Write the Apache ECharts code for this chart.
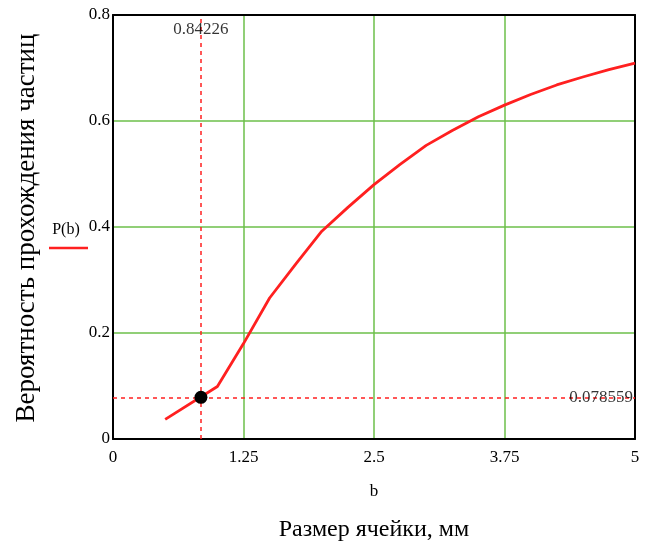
<!DOCTYPE html>
<html>
<head>
<meta charset="utf-8">
<script src="https://cdn.jsdelivr.net/npm/echarts@6/dist/echarts.min.js"></script>
<style>html,body{margin:0;padding:0;background:#fff}#c{width:655px;height:548px}</style>
</head>
<body>
<div id="c"></div>
<script>
const bValues = [0.5, 1.0, 1.25, 1.5, 1.75, 2.0, 2.25, 2.5, 2.75, 3.0, 3.25, 3.5, 3.75, 4.0, 4.25, 4.5, 4.75, 5.0];
const pValues = [0.037, 0.099, 0.18, 0.266, 0.33, 0.392, 0.437, 0.480, 0.518, 0.554, 0.582, 0.608, 0.630, 0.650, 0.668, 0.683, 0.697, 0.709];
const markerB = 0.84226;
const markerP = 0.078559;
const xTicks = [0, 1.25, 2.5, 3.75, 5];
const yTicks = [0, 0.2, 0.4, 0.6, 0.8];
const seriesName = 'P(b)';
const xVarLabel = 'b';
const xTitle = 'Размер ячейки, мм';
const yTitle = 'Вероятность прохождения частиц';

const font = 'Liberation Serif, Times New Roman, serif';
const chart = echarts.init(document.getElementById('c'));
const fmt = v => String(+v.toFixed(4));
const frameAxis = {
  axisLine: {show: true, onZero: false, lineStyle: {color: '#000', width: 2}},
  axisTick: {show: false}, axisLabel: {show: false}, splitLine: {show: false}
};
chart.setOption({
  animation: false,
  grid: {left: 113, right: 20, top: 15, bottom: 109, show: false},
  xAxis: [{
    type: 'value', min: 0, max: 5, interval: 1.25,
    axisLine: {show: true, onZero: false, lineStyle: {color: '#000', width: 2}},
    axisTick: {show: false},
    splitLine: {show: true, lineStyle: {color: '#6cbf4a', width: 1.5}},
    axisLabel: {color: '#000', fontFamily: font, fontSize: 17, margin: 10, formatter: fmt}
  }, Object.assign({type: 'value', min: 0, max: 5, position: 'top'}, frameAxis)],
  yAxis: [{
    type: 'value', min: 0, max: 0.8, interval: 0.2,
    axisLine: {show: true, onZero: false, lineStyle: {color: '#000', width: 2}},
    axisTick: {show: false},
    splitLine: {show: true, lineStyle: {color: '#6cbf4a', width: 1.5}},
    axisLabel: {color: '#000', fontFamily: font, fontSize: 17, margin: 3, formatter: fmt}
  }, Object.assign({type: 'value', min: 0, max: 0.8, position: 'right'}, frameAxis)],
  series: [
    {
      name: seriesName, type: 'line', showSymbol: false,
      data: bValues.map((b, i) => [b, pValues[i]]),
      lineStyle: {color: '#ff2020', width: 2.8},
      z: 3,
      markLine: {
        silent: true, symbol: 'none',
        lineStyle: {color: '#ff2020', type: [4, 4], width: 1.5},
        label: {show: false},
        data: [
          [{coord: [markerB, 0]}, {coord: [markerB, 0.8]}],
          [{coord: [0, markerP]}, {coord: [5, markerP]}]
        ]
      }
    },
    {
      type: 'scatter', data: [[markerB, markerP]], symbolSize: 13,
      itemStyle: {color: '#000', opacity: 1}, z: 5
    },
    {
      type: 'scatter', data: [[markerB, 0.8]], symbolSize: 0, z: 6,
      label: {show: true, position: 'bottom', distance: 6, formatter: String(markerB), color: '#000', fontFamily: font, fontSize: 17}
    },
    {
      type: 'scatter', data: [[5, markerP]], symbolSize: 0, z: 6,
      label: {show: true, position: 'left', distance: 2, formatter: String(markerP), color: '#000', fontFamily: font, fontSize: 17}
    }
  ],
  graphic: [
    {type: 'text', x: 374, y: 492, style: {text: xVarLabel, fill: '#000', font: '17px ' + font, align: 'center', verticalAlign: 'middle'}},
    {type: 'text', x: 374, y: 530, style: {text: xTitle, fill: '#000', font: '24px ' + font, align: 'center', verticalAlign: 'middle'}},
    {type: 'text', x: 27, y: 228, rotation: Math.PI / 2, style: {text: yTitle, fill: '#000', font: '27px ' + font, align: 'center', verticalAlign: 'middle'}},
    {type: 'text', x: 66, y: 230, style: {text: seriesName, fill: '#000', font: '16px ' + font, align: 'center', verticalAlign: 'middle'}},
    {type: 'line', shape: {x1: 49, y1: 248, x2: 88, y2: 248}, style: {stroke: '#ff2020', lineWidth: 2.5}}
  ]
});
</script>
</body>
</html>
